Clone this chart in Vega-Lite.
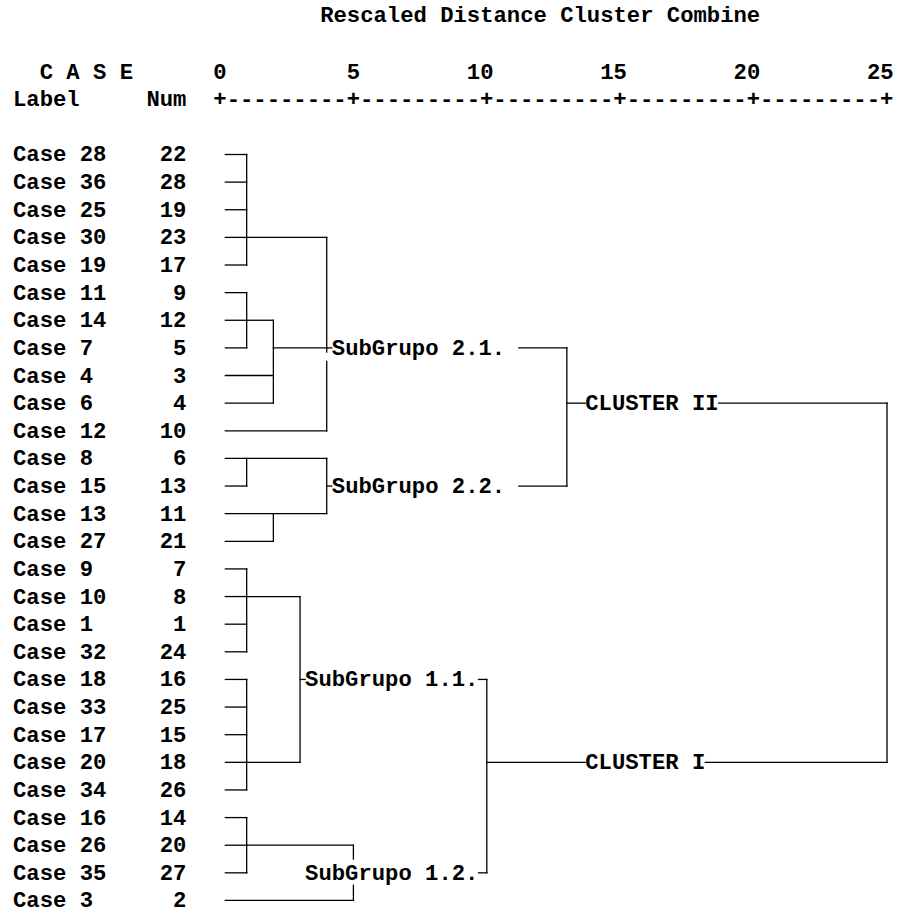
{
  "$schema": "https://vega.github.io/schema/vega-lite/v6.json",
  "width": 898,
  "height": 912,
  "padding": 0,
  "autosize": {"type": "fit", "contains": "padding"},
  "background": "#ffffff",
  "config": {
    "view": {"stroke": null},
    "text": {"font": "'Courier New', 'Nimbus Mono PS', 'Nimbus Mono L', FreeMono, Courier, 'Liberation Mono', monospace", "fontWeight": "bold", "fontSize": 22.23, "color": "#000000", "baseline": "middle"}
  },
  "datasets": {
    "leaves": [
      {"row": 0, "label": "Case 28", "num": 22},
      {"row": 1, "label": "Case 36", "num": 28},
      {"row": 2, "label": "Case 25", "num": 19},
      {"row": 3, "label": "Case 30", "num": 23},
      {"row": 4, "label": "Case 19", "num": 17},
      {"row": 5, "label": "Case 11", "num": 9},
      {"row": 6, "label": "Case 14", "num": 12},
      {"row": 7, "label": "Case 7", "num": 5},
      {"row": 8, "label": "Case 4", "num": 3},
      {"row": 9, "label": "Case 6", "num": 4},
      {"row": 10, "label": "Case 12", "num": 10},
      {"row": 11, "label": "Case 8", "num": 6},
      {"row": 12, "label": "Case 15", "num": 13},
      {"row": 13, "label": "Case 13", "num": 11},
      {"row": 14, "label": "Case 27", "num": 21},
      {"row": 15, "label": "Case 9", "num": 7},
      {"row": 16, "label": "Case 10", "num": 8},
      {"row": 17, "label": "Case 1", "num": 1},
      {"row": 18, "label": "Case 32", "num": 24},
      {"row": 19, "label": "Case 18", "num": 16},
      {"row": 20, "label": "Case 33", "num": 25},
      {"row": 21, "label": "Case 17", "num": 15},
      {"row": 22, "label": "Case 20", "num": 18},
      {"row": 23, "label": "Case 34", "num": 26},
      {"row": 24, "label": "Case 16", "num": 14},
      {"row": 25, "label": "Case 26", "num": 20},
      {"row": 26, "label": "Case 35", "num": 27},
      {"row": 27, "label": "Case 3", "num": 2}
    ],
    "links": [
      {"d1": 0.2, "d2": 1, "r1": 0, "r2": 0},
      {"d1": 0.2, "d2": 1, "r1": 1, "r2": 1},
      {"d1": 0.2, "d2": 1, "r1": 2, "r2": 2},
      {"d1": 0.2, "d2": 1, "r1": 3, "r2": 3},
      {"d1": 0.2, "d2": 1, "r1": 4, "r2": 4},
      {"d1": 1, "d2": 1, "r1": 0, "r2": 4},
      {"d1": 1, "d2": 4, "r1": 3, "r2": 3},
      {"d1": 0.2, "d2": 1, "r1": 5, "r2": 5},
      {"d1": 0.2, "d2": 1, "r1": 6, "r2": 6},
      {"d1": 0.2, "d2": 1, "r1": 7, "r2": 7},
      {"d1": 1, "d2": 1, "r1": 5, "r2": 7},
      {"d1": 1, "d2": 2, "r1": 6, "r2": 6},
      {"d1": 0.2, "d2": 2, "r1": 8, "r2": 8},
      {"d1": 0.2, "d2": 2, "r1": 9, "r2": 9},
      {"d1": 2, "d2": 2, "r1": 6, "r2": 9},
      {"d1": 2, "d2": 4, "r1": 7, "r2": 7},
      {"d1": 0.2, "d2": 4, "r1": 10, "r2": 10},
      {"d1": 4, "d2": 4, "r1": 3, "r2": 7.15},
      {"d1": 4, "d2": 4, "r1": 7.49, "r2": 10},
      {"d1": 4, "d2": 4.19, "r1": 7, "r2": 7},
      {"d1": 11.2, "d2": 13, "r1": 7, "r2": 7},
      {"d1": 0.2, "d2": 4, "r1": 11, "r2": 11},
      {"d1": 0.2, "d2": 1, "r1": 12, "r2": 12},
      {"d1": 1, "d2": 1, "r1": 11, "r2": 12},
      {"d1": 0.2, "d2": 4, "r1": 13, "r2": 13},
      {"d1": 0.2, "d2": 2, "r1": 14, "r2": 14},
      {"d1": 2, "d2": 2, "r1": 13, "r2": 14},
      {"d1": 4, "d2": 4, "r1": 11, "r2": 13},
      {"d1": 4, "d2": 4.19, "r1": 12, "r2": 12},
      {"d1": 11.2, "d2": 13, "r1": 12, "r2": 12},
      {"d1": 13, "d2": 13, "r1": 7, "r2": 12},
      {"d1": 13, "d2": 13.69, "r1": 9, "r2": 9},
      {"d1": 18.69, "d2": 25, "r1": 9, "r2": 9},
      {"d1": 25, "d2": 25, "r1": 9, "r2": 22},
      {"d1": 0.2, "d2": 1, "r1": 15, "r2": 15},
      {"d1": 0.2, "d2": 1, "r1": 16, "r2": 16},
      {"d1": 0.2, "d2": 1, "r1": 17, "r2": 17},
      {"d1": 0.2, "d2": 1, "r1": 18, "r2": 18},
      {"d1": 1, "d2": 1, "r1": 15, "r2": 18},
      {"d1": 1, "d2": 3, "r1": 16, "r2": 16},
      {"d1": 0.2, "d2": 1, "r1": 19, "r2": 19},
      {"d1": 0.2, "d2": 1, "r1": 20, "r2": 20},
      {"d1": 0.2, "d2": 1, "r1": 21, "r2": 21},
      {"d1": 0.2, "d2": 1, "r1": 22, "r2": 22},
      {"d1": 0.2, "d2": 1, "r1": 23, "r2": 23},
      {"d1": 1, "d2": 1, "r1": 19, "r2": 23},
      {"d1": 1, "d2": 3, "r1": 22, "r2": 22},
      {"d1": 3, "d2": 3, "r1": 16, "r2": 22},
      {"d1": 3, "d2": 3.19, "r1": 19, "r2": 19},
      {"d1": 9.69, "d2": 10, "r1": 19, "r2": 19},
      {"d1": 10, "d2": 10, "r1": 19, "r2": 26},
      {"d1": 9.69, "d2": 10, "r1": 26, "r2": 26},
      {"d1": 10, "d2": 13.69, "r1": 22, "r2": 22},
      {"d1": 18.19, "d2": 25, "r1": 22, "r2": 22},
      {"d1": 0.2, "d2": 1, "r1": 24, "r2": 24},
      {"d1": 0.2, "d2": 1, "r1": 25, "r2": 25},
      {"d1": 0.2, "d2": 1, "r1": 26, "r2": 26},
      {"d1": 1, "d2": 1, "r1": 24, "r2": 26},
      {"d1": 1, "d2": 5, "r1": 25, "r2": 25},
      {"d1": 5, "d2": 5, "r1": 25, "r2": 25.5},
      {"d1": 5, "d2": 5, "r1": 26.45, "r2": 27},
      {"d1": 0.2, "d2": 5, "r1": 27, "r2": 27}
    ],
    "clusters": [
      {"name": "SubGrupo 2.1.", "d": 4.19, "row": 7},
      {"name": "SubGrupo 2.2.", "d": 4.19, "row": 12},
      {"name": "SubGrupo 1.1.", "d": 3.19, "row": 19},
      {"name": "SubGrupo 1.2.", "d": 3.19, "row": 26},
      {"name": "CLUSTER II", "d": 13.69, "row": 9},
      {"name": "CLUSTER I", "d": 13.69, "row": 22}
    ],
    "ticks": [
      {"v": 0, "t": "0"},
      {"v": 5, "t": "5"},
      {"v": 10, "t": "10"},
      {"v": 15, "t": "15"},
      {"v": 20, "t": "20"},
      {"v": 25, "t": "25"}
    ],
    "headers": [
      {"t": "Rescaled Distance Cluster Combine", "d": 12.0, "r": -5.05},
      {"t": "C A S E", "d": -5.01, "r": -3},
      {"t": "Label", "d": -6.51, "r": -2},
      {"t": "Num", "d": -2.01, "r": -2}
    ]
  },
  "layer": [
    {
      "data": {"name": "links"},
      "mark": {"type": "rule", "color": "#000000", "strokeWidth": 1.3, "strokeCap": "square"},
      "encoding": {
        "x": {"field": "d1", "type": "quantitative", "axis": null, "scale": {"domain": [-8.246, 25.412], "nice": false, "zero": false}},
        "x2": {"field": "d2"},
        "y": {"field": "r1", "type": "quantitative", "axis": null, "scale": {"domain": [-5.592, 27.309], "nice": false, "zero": false, "reverse": true}},
        "y2": {"field": "r2"}
      }
    },
    {
      "data": {"name": "leaves"},
      "mark": {"type": "text", "align": "left"},
      "encoding": {
        "x": {"datum": -7.759, "type": "quantitative"},
        "y": {"field": "row", "type": "quantitative"},
        "text": {"field": "label"}
      }
    },
    {
      "data": {"name": "leaves"},
      "mark": {"type": "text", "align": "right"},
      "encoding": {
        "x": {"datum": -1.259, "type": "quantitative"},
        "y": {"field": "row", "type": "quantitative"},
        "text": {"field": "num"}
      }
    },
    {
      "data": {"name": "clusters"},
      "mark": {"type": "text", "align": "left"},
      "encoding": {
        "x": {"field": "d", "type": "quantitative"},
        "y": {"field": "row", "type": "quantitative"},
        "text": {"field": "name"}
      }
    },
    {
      "data": {"name": "ticks"},
      "mark": {"type": "text", "align": "right", "dx": 6.67},
      "encoding": {
        "x": {"field": "v", "type": "quantitative"},
        "y": {"datum": -3, "type": "quantitative"},
        "text": {"field": "t"}
      }
    },
    {
      "data": {"values": [{"s": "+---------+---------+---------+---------+---------+"}]},
      "mark": {"type": "text", "align": "left", "dx": -6.67},
      "encoding": {
        "x": {"datum": 0, "type": "quantitative"},
        "y": {"datum": -2, "type": "quantitative"},
        "text": {"field": "s"}
      }
    },
    {
      "data": {"name": "headers"},
      "mark": {"type": "text", "align": "center"},
      "encoding": {
        "x": {"field": "d", "type": "quantitative"},
        "y": {"field": "r", "type": "quantitative"},
        "text": {"field": "t"}
      }
    }
  ]
}
